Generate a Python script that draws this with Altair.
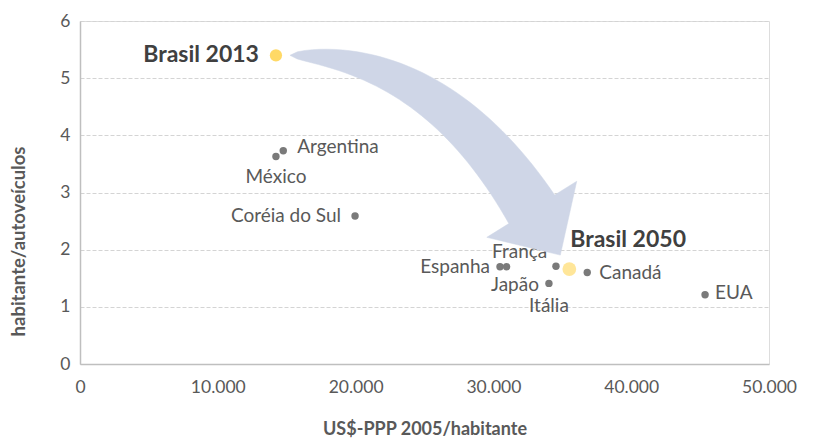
import altair as alt
import pandas as pd
import numpy as np

# ---- data ----
countries = ["Argentina", "México", "Coréia do Sul", "Espanha", "França", "Japão", "Itália", "Canadá", "EUA"]
gdp = [14750, 14220, 19960, 30480, 30960, 34540, 34030, 36810, 45360]
inhab_per_vehicle = [3.73, 3.63, 2.59, 1.70, 1.70, 1.71, 1.41, 1.60, 1.21]

brasil_names = ["Brasil 2013", "Brasil 2050"]
brasil_gdp = [14220, 35510]
brasil_ratio = [5.40, 1.66]

x_ticks = [0, 10000, 20000, 30000, 40000, 50000]
y_ticks = [0, 1, 2, 3, 4, 5, 6]

# ---- layout ----
W, H = 689, 343
XMAX, YMAX = 50000, 6
FONT = "Lato"
GRAY = "#595959"
DARK = "#404040"

def to_px(x, y):
    return x / XMAX * W, H - y / YMAX * H

def to_data(px, py):
    return px / W * XMAX, (H - py) / H * YMAX

# label placement (dx, dy, align) per name
label_place = {
    "Argentina": (14, -4, "left"),
    "México": (0, 21, "center"),
    "Coréia do Sul": (-14, 0, "right"),
    "Espanha": (-10, 0, "right"),
    "França": (13, -15, "center"),
    "Japão": (-17, 19, "right"),
    "Itália": (0, 23, "center"),
    "Canadá": (12, 0, "left"),
    "EUA": (10, -2, "left"),
    "Brasil 2013": (-17, 0, "right"),
    "Brasil 2050": (1, -29, "left"),
}

df = pd.DataFrame({"name": countries, "x": gdp, "y": inhab_per_vehicle})
dfb = pd.DataFrame({"name": brasil_names, "x": brasil_gdp, "y": brasil_ratio})

# ---- arrow geometry derived from Brasil 2013 -> Brasil 2050 ----
sx, sy = to_px(brasil_gdp[0], brasil_ratio[0])
ex, ey = to_px(brasil_gdp[1], brasil_ratio[1])
S = np.array([sx + 14, sy])
TIP = np.array([ex - 9, ey - 14])
d = np.array([0.53, 0.85])
d = d / np.linalg.norm(d)
Hb = TIP - 54 * d  # head base center
t_c = (Hb[1] - S[1]) / d[1]
C = np.array([Hb[0] - t_c * d[0], S[1]])
ts = np.linspace(0, 1, 40)
pts, nrm = [], []
for t in ts:
    p = (1 - t) ** 2 * S + 2 * (1 - t) * t * C + t ** 2 * Hb
    der = 2 * (1 - t) * (C - S) + 2 * t * (Hb - C)
    der = der / np.linalg.norm(der)
    pts.append(p)
    nrm.append(np.array([der[1], -der[0]]))  # points to outer (upper-right) side
hw = 27 * ts ** 0.55
outer = [pts[i] + hw[i] * nrm[i] for i in range(len(ts))]
inner = [pts[i] - hw[i] * nrm[i] for i in range(len(ts))]
nd = nrm[-1]
head = [Hb + 53 * nd, TIP, Hb - 53 * nd]
poly = outer + head + inner[::-1]
arrow_df = pd.DataFrame(
    [dict(zip(["x", "y"], to_data(p[0], p[1])), i=k) for k, p in enumerate(poly)]
)

xs = alt.Scale(domain=[0, XMAX], nice=False, zero=True)
ys = alt.Scale(domain=[0, YMAX], nice=False)

base_x = alt.X(
    "x:Q", scale=xs,
    axis=alt.Axis(
        values=x_ticks, format=",.0f", title="US$-PPP 2005/habitante",
        grid=False, ticks=False, domainColor="#bfbfbf", domainWidth=1.5,
        labelFont=FONT, labelFontSize=17.5, labelColor=GRAY, labelPadding=14,
        titleFont=FONT, titleFontSize=18, titleFontWeight="bold", titleColor=GRAY,
        titleY=65, titleBaseline="middle", labelFlush=False,
    ),
)
base_y = alt.Y(
    "y:Q", scale=ys,
    axis=alt.Axis(
        values=y_ticks, format="d", title="habitante/autoveículos",
        grid=True, gridColor="#d4d4d4", gridDash=[4, 2], gridWidth=1,
        ticks=False, domainColor="#bfbfbf", domainWidth=1.5,
        labelFont=FONT, labelFontSize=17.5, labelColor=GRAY, labelPadding=10,
        titleFont=FONT, titleFontSize=18.5, titleFontWeight="bold", titleColor=GRAY,
        titleX=-62, titleY=220, titleBaseline="middle",
    ),
)

axes = alt.Chart(df).mark_point(opacity=0).encode(x=base_x, y=base_y)

pts_gray = alt.Chart(df).mark_circle(size=55, color="#7a7a7a", opacity=1).encode(
    x=alt.X("x:Q", scale=xs), y=alt.Y("y:Q", scale=ys)
)
pts_b13 = alt.Chart(dfb.iloc[[0]]).mark_circle(size=150, color="#ffd966", opacity=1).encode(
    x=alt.X("x:Q", scale=xs), y=alt.Y("y:Q", scale=ys)
)
pts_b50 = alt.Chart(dfb.iloc[[1]]).mark_circle(size=190, color="#ffe699", opacity=1).encode(
    x=alt.X("x:Q", scale=xs), y=alt.Y("y:Q", scale=ys)
)

text_layers = []
for name in countries:
    dx, dy, al = label_place[name]
    text_layers.append(
        alt.Chart(df[df["name"] == name]).mark_text(
            font=FONT, fontSize=19, color=GRAY, align=al, baseline="middle", dx=dx, dy=dy
        ).encode(x=alt.X("x:Q", scale=xs), y=alt.Y("y:Q", scale=ys), text="name:N")
    )
for name in brasil_names:
    dx, dy, al = label_place[name]
    text_layers.append(
        alt.Chart(dfb[dfb["name"] == name]).mark_text(
            font=FONT, fontSize=23, fontWeight="bold", color=DARK, align=al,
            baseline="middle", dx=dx, dy=dy
        ).encode(x=alt.X("x:Q", scale=xs), y=alt.Y("y:Q", scale=ys), text="name:N")
    )

arrow = alt.Chart(arrow_df).mark_line(
    filled=True, fill="#cfd6e7", stroke="#cfd6e7", strokeWidth=0.5, opacity=1
).encode(
    x=alt.X("x:Q", scale=xs), y=alt.Y("y:Q", scale=ys), order="i:Q"
)

chart = alt.layer(
    axes, pts_gray, pts_b13, pts_b50, *text_layers, arrow
).properties(
    width=W, height=H,
    autosize=alt.AutoSizeParams(type="none"),
    padding={"left": 72, "top": 13, "right": 43, "bottom": 75},
).configure_view(stroke=None).configure(
    locale={"number": {"decimal": ",", "thousands": ".", "grouping": [3], "currency": ["R$", ""]}}
)

chart.save("out.html", embed_options={"renderer": "svg", "actions": False})
